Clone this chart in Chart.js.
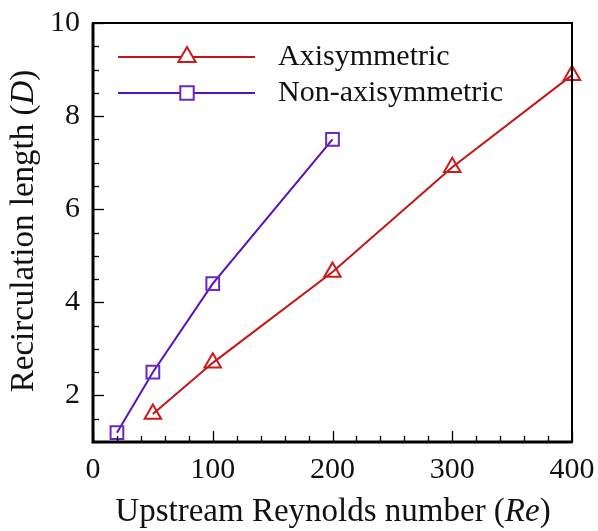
<!DOCTYPE html>
<html lang="en">

<head>
  <meta charset="UTF-8">
  <title>Recirculation length</title>
  <script src="https://cdn.jsdelivr.net/npm/chart.js"></script>
  <style>
    html, body {
      margin: 0;
      padding: 0;
      background: #fff;
    }

    #wrap {
      width: 598px;
      height: 531px;
    }
  </style>
</head>

<body>
  <div id="wrap">
    <canvas id="chart" width="598" height="531"></canvas>
  </div>

  <script>
    // data
    var reAxi = [50, 100, 200, 300, 400];
    var lenAxi = [1.6, 2.7, 4.65, 6.9, 8.88];
    var reNonAxi = [20, 50, 100, 200];
    var lenNonAxi = [1.2, 2.5, 4.4, 7.5];

    var xTicks = [0, 100, 200, 300, 400];
    var yTicks = [2, 4, 6, 8, 10];

    var redLine = '#c21616';
    var redMark = '#d01818';
    var purpleLine = '#5a10bf';
    var purpleMark = '#6a28c6';
    var serif = "'Liberation Serif', 'DejaVu Serif', serif";

    function pts(xs, ys) {
      return xs.map(function (x, i) { return { x: x, y: ys[i] }; });
    }

    // frame, inward ticks, legend and axis titles
    var decor = {
      id: 'decor',
      afterDraw: function (chart) {
        var ctx = chart.ctx;
        var a = chart.chartArea;
        var sx = chart.scales.x;
        var sy = chart.scales.y;
        ctx.save();

        ctx.strokeStyle = '#000';
        ctx.lineWidth = 1.3;
        for (var v = 0; v <= 400; v += 20) {
          var px = Math.round(sx.getPixelForValue(v)) + 0.5;
          var len = (v % 100 === 0) ? 11 : 6;
          ctx.beginPath();
          ctx.moveTo(px, a.bottom);
          ctx.lineTo(px, a.bottom - len);
          ctx.stroke();
        }
        for (var w = 1; w <= 10; w += 0.5) {
          var py = Math.round(sy.getPixelForValue(w)) + 0.5;
          var l2 = (w % 2 === 0) ? 11 : 6;
          ctx.beginPath();
          ctx.moveTo(a.left, py);
          ctx.lineTo(a.left + l2, py);
          ctx.stroke();
        }

        ctx.lineWidth = 2;
        ctx.strokeRect(a.left, a.top, a.right - a.left, a.bottom - a.top);
        ctx.lineWidth = 3;
        ctx.beginPath();
        ctx.moveTo(a.left, a.top);
        ctx.lineTo(a.left, a.bottom);
        ctx.lineTo(a.right, a.bottom);
        ctx.stroke();

        // legend
        var items = [
          { label: 'Axisymmetric', line: redLine, mark: redMark, style: 'triangle', r: 10, y: 57 },
          { label: 'Non-axisymmetric', line: purpleLine, mark: purpleMark, style: 'rect', r: 9.5, y: 93 }
        ];
        items.forEach(function (it) {
          ctx.strokeStyle = it.line;
          ctx.lineWidth = 2;
          ctx.beginPath();
          ctx.moveTo(118, it.y);
          ctx.lineTo(255, it.y);
          ctx.stroke();
          ctx.fillStyle = '#fff';
          ctx.strokeStyle = it.mark;
          Chart.helpers.drawPoint(ctx, { pointStyle: it.style, radius: it.r, borderWidth: 2 }, 187, it.y);
          ctx.fillStyle = '#111';
          ctx.font = '30px ' + serif;
          ctx.textBaseline = 'middle';
          ctx.textAlign = 'left';
          ctx.fillText(it.label, 278, it.y);
        });

        // axis titles with italic parts
        function mixed(parts, cx, cy) {
          var total = 0;
          parts.forEach(function (p) {
            ctx.font = (p.it ? 'italic ' : '') + '33px ' + serif;
            p.w = ctx.measureText(p.t).width;
            total += p.w;
          });
          var x0 = cx - total / 2;
          ctx.textAlign = 'left';
          ctx.textBaseline = 'middle';
          ctx.fillStyle = '#111';
          parts.forEach(function (p) {
            ctx.font = (p.it ? 'italic ' : '') + '33px ' + serif;
            ctx.fillText(p.t, x0, cy);
            x0 += p.w;
          });
        }
        mixed([{ t: 'Upstream Reynolds number (' }, { t: 'Re', it: true }, { t: ')' }], 333, 512);
        ctx.translate(24, 231);
        ctx.rotate(-Math.PI / 2);
        mixed([{ t: 'Recirculation length (' }, { t: 'D', it: true }, { t: ')' }], 0, 0);

        ctx.restore();
      }
    };

    new Chart(document.getElementById('chart').getContext('2d'), {
      type: 'line',
      data: {
        datasets: [{
          label: 'Axisymmetric',
          data: pts(reAxi, lenAxi),
          borderColor: redLine,
          pointBorderColor: redMark,
          pointBackgroundColor: 'rgba(255,255,255,0)',
          pointStyle: 'triangle',
          pointRadius: 9.5,
          pointBorderWidth: 2,
          borderWidth: 2,
          tension: 0
        }, {
          label: 'Non-axisymmetric',
          data: pts(reNonAxi, lenNonAxi),
          borderColor: purpleLine,
          pointBorderColor: purpleMark,
          pointBackgroundColor: 'rgba(255,255,255,0)',
          pointStyle: 'rect',
          pointRadius: 9,
          pointBorderWidth: 2,
          borderWidth: 2,
          tension: 0
        }]
      },
      options: {
        responsive: false,
        animation: false,
        clip: false,
        layout: { padding: { left: 0, right: 26, top: 18, bottom: 0 } },
        plugins: {
          legend: { display: false },
          tooltip: { enabled: false }
        },
        scales: {
          x: {
            type: 'linear',
            min: 0,
            max: 400,
            afterBuildTicks: function (s) { s.ticks = xTicks.map(function (v) { return { value: v }; }); },
            afterFit: function (s) { s.height = 89; },
            grid: { display: false },
            border: { display: false },
            ticks: { color: '#111', font: { family: serif, size: 30 }, padding: 2, maxRotation: 0 }
          },
          y: {
            type: 'linear',
            min: 1,
            max: 10,
            afterBuildTicks: function (s) { s.ticks = yTicks.map(function (v) { return { value: v }; }); },
            afterFit: function (s) { s.width = 93; },
            grid: { display: false },
            border: { display: false },
            ticks: { color: '#111', font: { family: serif, size: 30 }, padding: 5 }
          }
        }
      },
      plugins: [decor]
    });
  </script>
</body>

</html>
